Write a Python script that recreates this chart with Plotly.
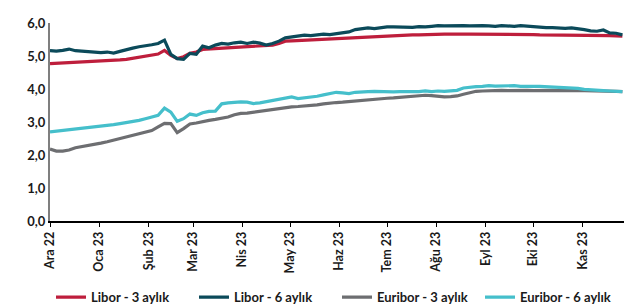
import pandas as pd
import plotly.graph_objects as go

dates = list(pd.date_range("2022-12-01", periods=91, freq="4D"))

libor_3m = [4.77, 4.78, 4.79, 4.80, 4.80, 4.81, 4.82, 4.83, 4.84, 4.84,
            4.86, 4.88, 4.90, 4.93, 4.96, 4.98, 5.02, 5.06, 5.17, 5.02,
            4.92, 4.98, 5.08, 5.12, 5.20, 5.21, 5.22, 5.24, 5.25, 5.26,
            5.27, 5.28, 5.28, 5.30, 5.30, 5.33, 5.38, 5.45, 5.46, 5.47,
            5.48, 5.49, 5.50, 5.51, 5.52, 5.52, 5.54, 5.55, 5.56, 5.58,
            5.59, 5.60, 5.61, 5.62, 5.62, 5.63, 5.63, 5.64, 5.64, 5.65,
            5.65, 5.66, 5.66, 5.66, 5.67, 5.66, 5.66, 5.66, 5.67, 5.66,
            5.66, 5.66, 5.67, 5.66, 5.65, 5.65, 5.65, 5.64, 5.64, 5.64,
            5.63, 5.64, 5.63, 5.63, 5.62, 5.63, 5.62, 5.63, 5.62, 5.61,
            5.60]

libor_6m = [5.16, 5.15, 5.17, 5.21, 5.16, 5.14, 5.13, 5.12, 5.10, 5.12,
            5.09, 5.14, 5.20, 5.24, 5.28, 5.30, 5.34, 5.38, 5.48, 5.05,
            4.92, 4.90, 5.08, 5.05, 5.30, 5.25, 5.33, 5.38, 5.36, 5.40,
            5.42, 5.38, 5.42, 5.39, 5.33, 5.38, 5.45, 5.55, 5.58, 5.62,
            5.63, 5.62, 5.64, 5.66, 5.65, 5.68, 5.70, 5.73, 5.80, 5.83,
            5.85, 5.83, 5.86, 5.88, 5.88, 5.87, 5.88, 5.87, 5.89, 5.88,
            5.90, 5.92, 5.91, 5.92, 5.91, 5.92, 5.91, 5.92, 5.92, 5.91,
            5.90, 5.92, 5.91, 5.90, 5.92, 5.90, 5.89, 5.87, 5.86, 5.86,
            5.84, 5.84, 5.85, 5.83, 5.80, 5.76, 5.75, 5.79, 5.70, 5.69,
            5.64]

euribor_3m = [2.18, 2.12, 2.12, 2.15, 2.22, 2.25, 2.28, 2.32, 2.36, 2.40,
              2.45, 2.50, 2.54, 2.58, 2.63, 2.68, 2.74, 2.85, 2.96, 2.95,
              2.68, 2.80, 2.94, 2.97, 3.02, 3.05, 3.08, 3.12, 3.15, 3.22,
              3.26, 3.27, 3.30, 3.32, 3.34, 3.37, 3.40, 3.43, 3.46, 3.47,
              3.48, 3.50, 3.52, 3.55, 3.58, 3.59, 3.60, 3.62, 3.64, 3.66,
              3.68, 3.69, 3.71, 3.72, 3.73, 3.75, 3.77, 3.79, 3.80, 3.81,
              3.80, 3.78, 3.76, 3.77, 3.79, 3.84, 3.89, 3.93, 3.94, 3.95,
              3.95, 3.96, 3.95, 3.96, 3.97, 3.96, 3.95, 3.96, 3.97, 3.96,
              3.95, 3.96, 3.97, 3.96, 3.95, 3.95, 3.94, 3.94, 3.93, 3.93,
              3.92]

euribor_6m = [2.70, 2.72, 2.74, 2.76, 2.79, 2.81, 2.83, 2.85, 2.88, 2.88,
              2.92, 2.95, 2.98, 3.02, 3.05, 3.10, 3.14, 3.20, 3.42, 3.30,
              3.02, 3.10, 3.24, 3.20, 3.28, 3.32, 3.33, 3.55, 3.58, 3.60,
              3.61, 3.60, 3.56, 3.58, 3.62, 3.65, 3.68, 3.74, 3.76, 3.71,
              3.73, 3.76, 3.78, 3.82, 3.86, 3.90, 3.88, 3.86, 3.90, 3.92,
              3.92, 3.93, 3.92, 3.92, 3.91, 3.92, 3.93, 3.92, 3.92, 3.94,
              3.92, 3.94, 3.93, 3.95, 3.96, 4.03, 4.06, 4.07, 4.08, 4.10,
              4.09, 4.10, 4.09, 4.10, 4.08, 4.09, 4.08, 4.08, 4.07, 4.08,
              4.06, 4.06, 4.04, 4.02, 3.99, 3.97, 3.96, 3.95, 3.94, 3.93,
              3.92]

series_names = ["Libor - 3 aylık", "Libor - 6 aylık", "Euribor - 3 aylık", "Euribor - 6 aylık"]
series_colors = ["#BE1E3C", "#0B4A5A", "#6D6E71", "#45BFCB"]

tick_dates = list(pd.date_range("2022-12-01", periods=12, freq="MS"))
tick_labels = ["Ara 22", "Oca 23", "Şub 23", "Mar 23", "Nis 23", "May 23",
               "Haz 23", "Tem 23", "Ağu 23", "Eyl 23", "Eki 23", "Kas 23"]

fig = go.Figure()
for name, vals, col in zip(series_names, [libor_3m, libor_6m, euribor_3m, euribor_6m], series_colors):
    fig.add_trace(go.Scatter(x=dates, y=vals, name=name, mode="lines",
                             line=dict(color=col, width=3.2)))

font_family = "Lato, Open Sans, sans-serif"
fig.update_layout(
    width=639, height=304,
    margin=dict(l=42, r=23, t=15, b=91, autoexpand=False),
    paper_bgcolor="white", plot_bgcolor="white",
    separators=",.",
    font=dict(family=font_family, size=12, color="#1a1a1a", weight="bold"),
    showlegend=True,
    legend=dict(orientation="h", x=0.50, xanchor="center", y=-0.385, yanchor="middle",
                font=dict(family=font_family, size=13, color="#1a1a1a", weight="bold"),
                itemwidth=30, entrywidth=98, entrywidthmode="pixels"),
    xaxis=dict(
        range=[pd.Timestamp("2022-12-01"), pd.Timestamp("2023-11-27")],
        tickvals=tick_dates, ticktext=tick_labels, tickangle=-90,
        ticks="outside", ticklen=4, tickcolor="#000000", tickwidth=1,
        showline=True, linecolor="#000000", linewidth=1.5,
        showgrid=False, zeroline=False, automargin=False,
        tickfont=dict(family=font_family, size=12.5, color="#1a1a1a", weight="bold"),
    ),
    yaxis=dict(
        range=[0, 6], tickvals=[0, 1, 2, 3, 4, 5, 6], tickformat=".1f",
        showline=True, linecolor="#7f7f7f", linewidth=2,
        showgrid=False, zeroline=False, ticks="", automargin=False,
        tickfont=dict(family=font_family, size=13, color="#1a1a1a", weight="bold"),
    ),
)

fig.write_html("out.html")
